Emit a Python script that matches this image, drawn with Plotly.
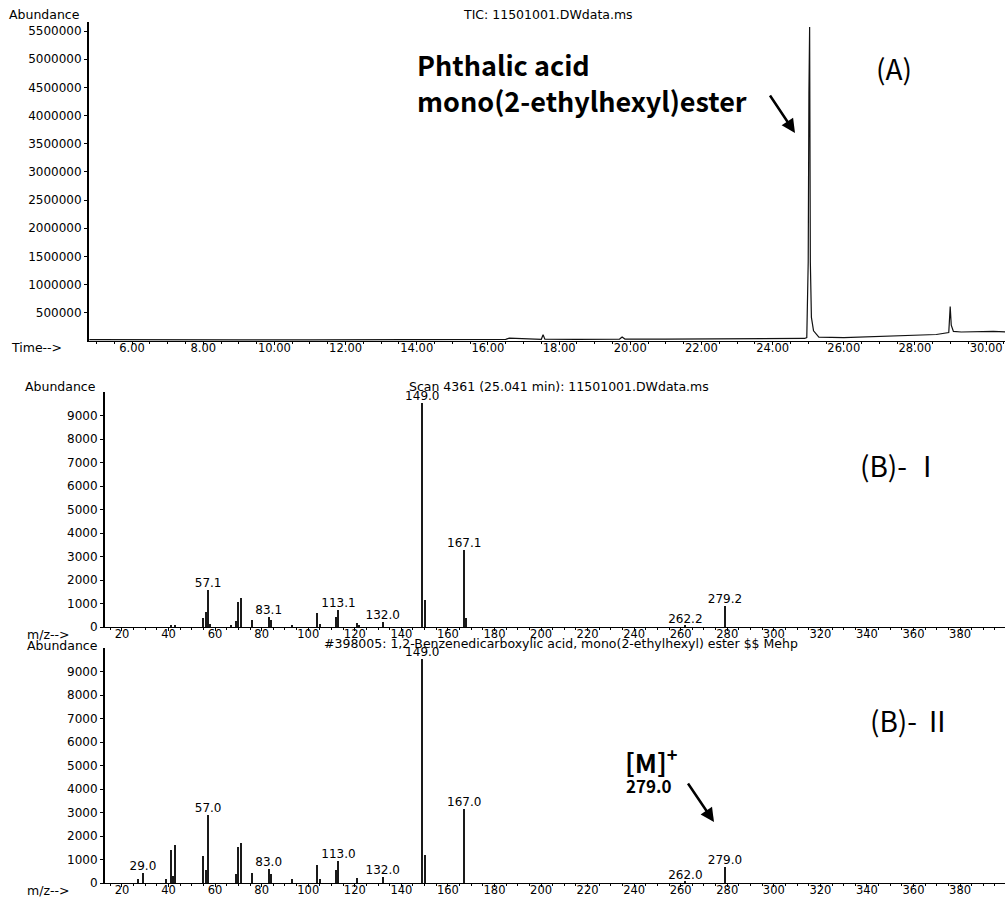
import plotly.graph_objects as go

# ---------------- DATA ----------------
# (A) Total ion chromatogram
tic_time = [4.80, 5.5, 7.0, 9.0, 11.0, 13.0, 13.9, 14.0, 15.0, 16.5, 16.6, 17.5, 17.55, 17.6,
            18.5, 19.7, 19.77, 19.85, 21.0, 23.0, 24.5, 24.9, 24.96, 25.00, 25.02, 25.04, 25.06,
            25.09, 25.15, 25.3, 26.0, 27.0, 28.0, 28.6, 28.95, 28.99, 29.02, 29.08, 29.3, 29.8,
            30.2, 30.55]
tic_abund = [25000, 22000, 20000, 20000, 21000, 22000, 35000, 24000, 24000, 28000, 50000, 30000,
             110000, 32000, 30000, 35000, 70000, 35000, 33000, 33000, 40000, 45000, 60000, 1400000,
             4400000, 5570000, 1400000, 420000, 180000, 70000, 60000, 80000, 100000, 115000,
             150000, 610000, 280000, 170000, 160000, 165000, 170000, 160000]
tic_yticks = [500000, 1000000, 1500000, 2000000, 2500000, 3000000, 3500000, 4000000,
              4500000, 5000000, 5500000]

# (B)-I measured spectrum, scan 4361
mz_b1 = [41, 43, 55, 56, 57, 58, 67, 69, 70, 71, 76, 83, 84, 93, 104, 105, 112, 113, 121, 122,
         132, 149, 150, 167, 168, 262, 279]
int_b1 = [60, 80, 400, 650, 1570, 120, 80, 250, 1080, 1230, 300, 440, 300, 80, 590, 120, 430,
          720, 150, 100, 230, 9550, 1150, 3280, 380, 60, 900]
lab_mz_b1 = [57, 83, 113, 132, 149, 167, 262, 279]
lab_txt_b1 = ["57.1", "83.1", "113.1", "132.0", "149.0", "167.1", "262.2", "279.2"]

# (B)-II library spectrum
mz_b2 = [27, 29, 39, 41, 42, 43, 55, 56, 57, 69, 70, 71, 76, 83, 84, 93, 104, 105, 112, 113,
         121, 132, 149, 150, 167, 262, 279]
int_b2 = [150, 440, 150, 1400, 300, 1620, 1150, 550, 2890, 400, 1550, 1720, 420, 600, 380, 150,
          760, 150, 550, 940, 200, 270, 9550, 1190, 3150, 60, 700]
lab_mz_b2 = [29, 57, 83, 113, 132, 149, 167, 262, 279]
lab_txt_b2 = ["29.0", "57.0", "83.0", "113.0", "132.0", "149.0", "167.0", "262.0", "279.0"]

ms_yticks = [0, 1000, 2000, 3000, 4000, 5000, 6000, 7000, 8000, 9000]
ms_xticks = list(range(20, 381, 20))

# ---------------- FIGURE ----------------
W, H = 1005, 897
def px(x):
    return x / W
def py(y):
    return 1 - y / H

SMALL = dict(family="DejaVu Sans", size=12, color="black")
TICKX = dict(family="DejaVu Sans", size=11.5, color="black")
HEAD = dict(family="DejaVu Sans", size=12.5, color="black")
BIG = "Noto Sans CJK KR"

fig = go.Figure()

fig.add_trace(go.Scatter(x=tic_time, y=tic_abund, mode="lines",
                         line=dict(color="#111111", width=1.2),
                         xaxis="x", yaxis="y", showlegend=False))

d1 = dict(zip(mz_b1, int_b1))
fig.add_trace(go.Bar(x=mz_b1, y=int_b1, width=0.5, marker=dict(color="#1a1a1a", line_width=0),
                     xaxis="x2", yaxis="y2", showlegend=False))
fig.add_trace(go.Scatter(x=lab_mz_b1, y=[d1[m] for m in lab_mz_b1], mode="text",
                         text=lab_txt_b1, textposition="top center", textfont=SMALL,
                         cliponaxis=False, xaxis="x2", yaxis="y2", showlegend=False))

d2 = dict(zip(mz_b2, int_b2))
fig.add_trace(go.Bar(x=mz_b2, y=int_b2, width=0.5, marker=dict(color="#1a1a1a", line_width=0),
                     xaxis="x3", yaxis="y3", showlegend=False))
fig.add_trace(go.Scatter(x=lab_mz_b2, y=[d2[m] for m in lab_mz_b2], mode="text",
                         text=lab_txt_b2, textposition="top center", textfont=SMALL,
                         cliponaxis=False, xaxis="x3", yaxis="y3", showlegend=False))

xcommon = dict(showline=True, linecolor="black", linewidth=1, ticks="outside", ticklen=3,
               tickcolor="black", tickfont=TICKX, showgrid=False, zeroline=False,
               automargin=False, ticklabelstandoff=-7)
ycommon = dict(showline=True, linecolor="black", linewidth=2, ticks="outside", ticklen=3,
               tickcolor="black", tickfont=SMALL, showgrid=False, zeroline=False,
               automargin=False)

fig.update_layout(
    template="none",
    width=W, height=H, margin=dict(l=0, r=0, t=0, b=0, pad=0),
    paper_bgcolor="white", plot_bgcolor="white", bargap=0, showlegend=False,
    xaxis=dict(**xcommon, domain=[px(89), 1], range=[4.79, 30.53], anchor="y",
               tick0=0, dtick=2, tickformat=".2f",
               minor=dict(dtick=0.5, ticks="outside", ticklen=2, tickcolor="black")),
    yaxis=dict(**ycommon, domain=[py(341), py(22)], range=[0, 5.66e6], anchor="x",
               tickvals=tic_yticks, tickformat="d"),
    xaxis2=dict(**xcommon, domain=[px(105), 1], range=[12.7, 399.3], anchor="y2",
                tickvals=ms_xticks,
                minor=dict(dtick=5, ticks="outside", ticklen=2, tickcolor="black")),
    yaxis2=dict(**ycommon, domain=[py(627), py(392)], range=[0, 10000], anchor="x2",
                tickvals=ms_yticks),
    xaxis3=dict(**xcommon, domain=[px(105), 1], range=[12.7, 399.3], anchor="y3",
                tickvals=ms_xticks,
                minor=dict(dtick=5, ticks="outside", ticklen=2, tickcolor="black")),
    yaxis3=dict(**ycommon, domain=[py(883), py(648)], range=[0, 10000], anchor="x3",
                tickvals=ms_yticks),
)

def note(text, x, y, font, xanchor="center", yanchor="middle"):
    fig.add_annotation(text=text, x=px(x), y=py(y), xref="paper", yref="paper",
                       showarrow=False, font=font, xanchor=xanchor, yanchor=yanchor,
                       borderpad=0)

note("Abundance", 8, 15, HEAD, xanchor="left")
note("TIC: 11501001.DWdata.ms", 548, 14, HEAD)
note("Time-->", 10, 348, HEAD, xanchor="left")

note("Abundance", 24, 387, HEAD, xanchor="left")
note("Scan 4361 (25.041 min): 11501001.DWdata.ms", 559, 387, HEAD)
note("m/z-->", 26, 634, HEAD, xanchor="left")

note("Abundance", 26, 645, HEAD, xanchor="left")
note("#398005: 1,2-Benzenedicarboxylic acid, mono(2-ethylhexyl) ester $$ Mehp", 561, 643, HEAD)
note("m/z-->", 26, 890, HEAD, xanchor="left")

BOLD = dict(family=BIG, size=27, color="black", weight="bold")
note("Phthalic acid", 416, 65, BOLD, xanchor="left")
note("mono(2-ethylhexyl)ester", 416, 100, BOLD, xanchor="left")

REG = dict(family=BIG, size=28, color="black")
note("(A)", 894, 68, REG)
note("(B)- Ⅰ", 900, 465, REG)
note("(B)- Ⅱ", 910, 720, REG)

note("[M]<sup>+</sup>", 624, 760, dict(family=BIG, size=26, color="black", weight="bold"),
     xanchor="left")
note("279.0", 625, 785, dict(family=BIG, size=17, color="black", weight="bold"), xanchor="left")

def arrow(x0, y0, x1, y1):
    fig.add_annotation(x=px(x1), y=py(y1), xref="paper", yref="paper",
                       ax=x0 - x1, ay=y0 - y1, axref="pixel", ayref="pixel",
                       showarrow=True, arrowhead=2, arrowsize=1.1, arrowwidth=2.5,
                       arrowcolor="black", text="")

arrow(769, 94, 795, 133)
arrow(687, 782, 714, 822)

fig.write_html("out.html", config={"displayModeBar": False},
               post_script="document.body.style.margin='0px';")
